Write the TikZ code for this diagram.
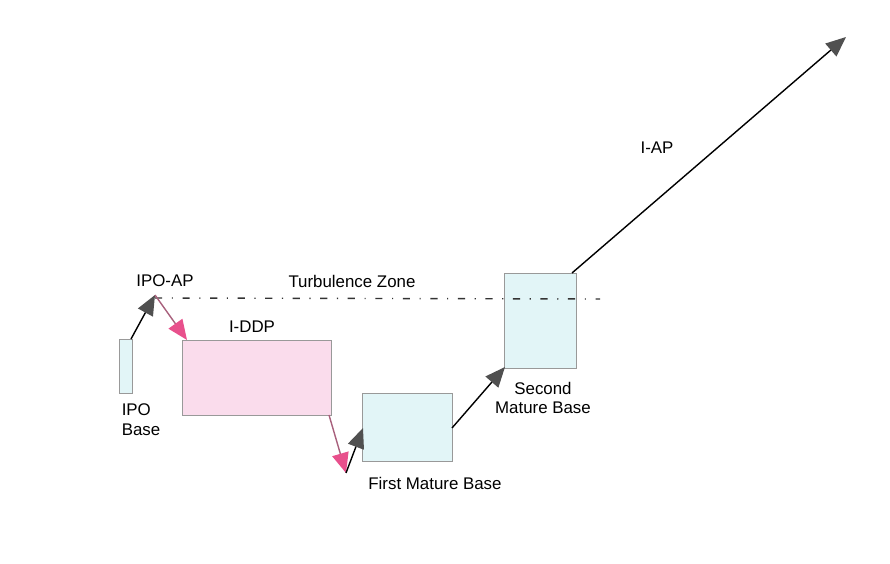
\documentclass[tikz,border=0pt]{standalone}
\usepackage{fontspec}
\setmainfont{Liberation Sans}
\usetikzlibrary{arrows.meta}

\definecolor{basecyan}{HTML}{E2F5F7}
\definecolor{ddppink}{HTML}{FADCEC}
\definecolor{headgray}{HTML}{505050}
\definecolor{headpink}{HTML}{E8508C}
\definecolor{linepink}{HTML}{A8607C}

\tikzset{
  basebox/.style={draw=gray!80, line width=0.6pt, fill=basecyan},
  ddpbox/.style={draw=gray!80, line width=0.6pt, fill=ddppink},
  upmove/.style={line width=1pt, black, -{Triangle[length=5mm,width=4.2mm,fill=headgray,color=headgray]}},
  downmove/.style={line width=1pt, linepink, -{Triangle[length=5mm,width=4.2mm,fill=headpink,color=headpink]}},
  lbl/.style={font=\fontsize{12}{14}\selectfont, inner sep=0pt, align=center}
}

\begin{document}
\begin{tikzpicture}[x=0.025cm,y=-0.025cm]
\useasboundingbox (0,0) rectangle (890,564);
% bases
\draw[basebox] (119,339) rectangle (132,393);
\draw[ddpbox] (182,340) rectangle (331,415);
\draw[basebox] (362,393) rectangle (452,461);
\draw[basebox] (504,273) rectangle (576,368);
%
\coordinate (ipo) at (131,339);
\coordinate (ipoap) at (155,295);
\coordinate (ddptl) at (187,340);
\coordinate (ddpbr) at (329,415);
\coordinate (low) at (346,473);
\coordinate (firstl) at (363,428);
\coordinate (firstr) at (452,428);
\coordinate (secondbl) at (505,367);
\coordinate (secondtr) at (572,273);
\coordinate (top) at (846,37);
%
\draw[dash pattern=on 1.8mm off 2.4mm on 0.8pt off 2.4mm, line width=1pt, black!80] (ipoap) ++(0,3) -- (600,299);
%
\draw[upmove] (ipo) -- (ipoap);
\draw[downmove] (ipoap) -- (ddptl);
\draw[downmove] (ddpbr) -- (low);
\draw[upmove] (low) -- (firstl);
\draw[upmove] (firstr) -- (secondbl);
\draw[upmove] (secondtr) -- (top);
%
\node[lbl] (ipoaplbl) at (165,281) {IPO-AP};
\node[lbl] (turb) at (352,281) {Turbulence Zone};
\node[lbl] (ddplbl) at (252,327) {I-DDP};
\node[lbl, align=left] (ipolbl) at (141,420) {IPO\\Base};
\node[lbl] (firstlbl) at (435,483) {First Mature Base};
\node[lbl] (secondlbl) at (543,398) {Second\\Mature Base};
\node[lbl] (iaplbl) at (657,148) {I-AP};
\end{tikzpicture}
\end{document}
